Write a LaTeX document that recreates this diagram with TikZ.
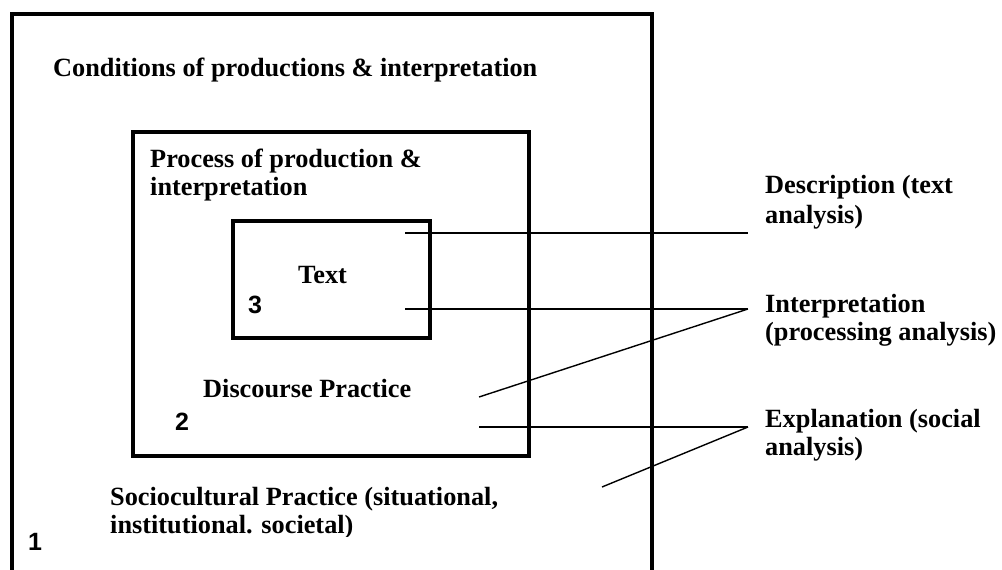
\documentclass[tikz,border=0pt]{standalone}
\usepackage{fontspec}
\setmainfont{Liberation Serif}
\newfontfamily\numfont{Liberation Sans}
\begin{document}
\begin{tikzpicture}[x=1pt,y=-1pt,
  lbl/.style={anchor=base west,inner sep=0pt,font=\fontsize{26.3}{28.5}\selectfont\bfseries},
  num/.style={anchor=base west,inner sep=0pt,font=\fontsize{25}{28}\selectfont\numfont\bfseries},
  boxline/.style={line width=4pt},
  conn/.style={line width=1.4pt}]
\useasboundingbox (0,0) rectangle (1002,570);
\clip (0,0) rectangle (1002,570);
\fill[white] (0,0) rectangle (1002,570);
% boxes
\draw[boxline] (12,640) -- (12,14) -- (652,14) -- (652,640);
\draw[boxline] (133,132) rectangle (529,456);
\draw[boxline] (233,221) rectangle (430,338);
% labels
\node[lbl] (cond) at (53,76) {Conditions of productions \& interpretation};
\node[lbl] (proc1) at (150,167) {Process of production \&};
\node[lbl] (proc2) at (150,195) {interpretation};
\node[lbl] (text) at (298,283) {Text};
\node[num] (n3) at (248,313) {3};
\node[lbl] (disc) at (203,397) {Discourse Practice};
\node[num] (n2) at (175,430) {2};
\node[lbl] (soc1) at (110,505) {Sociocultural Practice (situational,};
\begin{scope}
\clip (0,0) rectangle (1002,536);
\node[lbl] (soc2) at (110,533) {institutional. societal)};
\end{scope}
\node[num] (n1) at (28,550) {1};
\node[lbl] (desc1) at (765,193) {Description (text};
\node[lbl] (desc2) at (765,223) {analysis)};
\node[lbl] (int1) at (765,312) {Interpretation};
\node[lbl] (int2) at (765,340) {(processing analysis)};
\node[lbl] (exp1) at (765,427) {Explanation (social};
\node[lbl] (exp2) at (765,455) {analysis)};
% connector end points
\coordinate (a1) at (405,233);
\coordinate (a2) at (405,309);
\coordinate (a3) at (479,397);
\coordinate (a4) at (479,427);
\coordinate (a5) at (602,487);
\coordinate (e1) at (748,233);
\coordinate (e2) at (748,309);
\coordinate (e3) at (748,427);
\draw[conn] (a1) -- (e1);
\draw[conn] (a2) -- (e2);
\draw[conn] (a3) -- (e2);
\draw[conn] (a4) -- (e3);
\draw[conn] (a5) -- (e3);
\end{tikzpicture}
\end{document}
